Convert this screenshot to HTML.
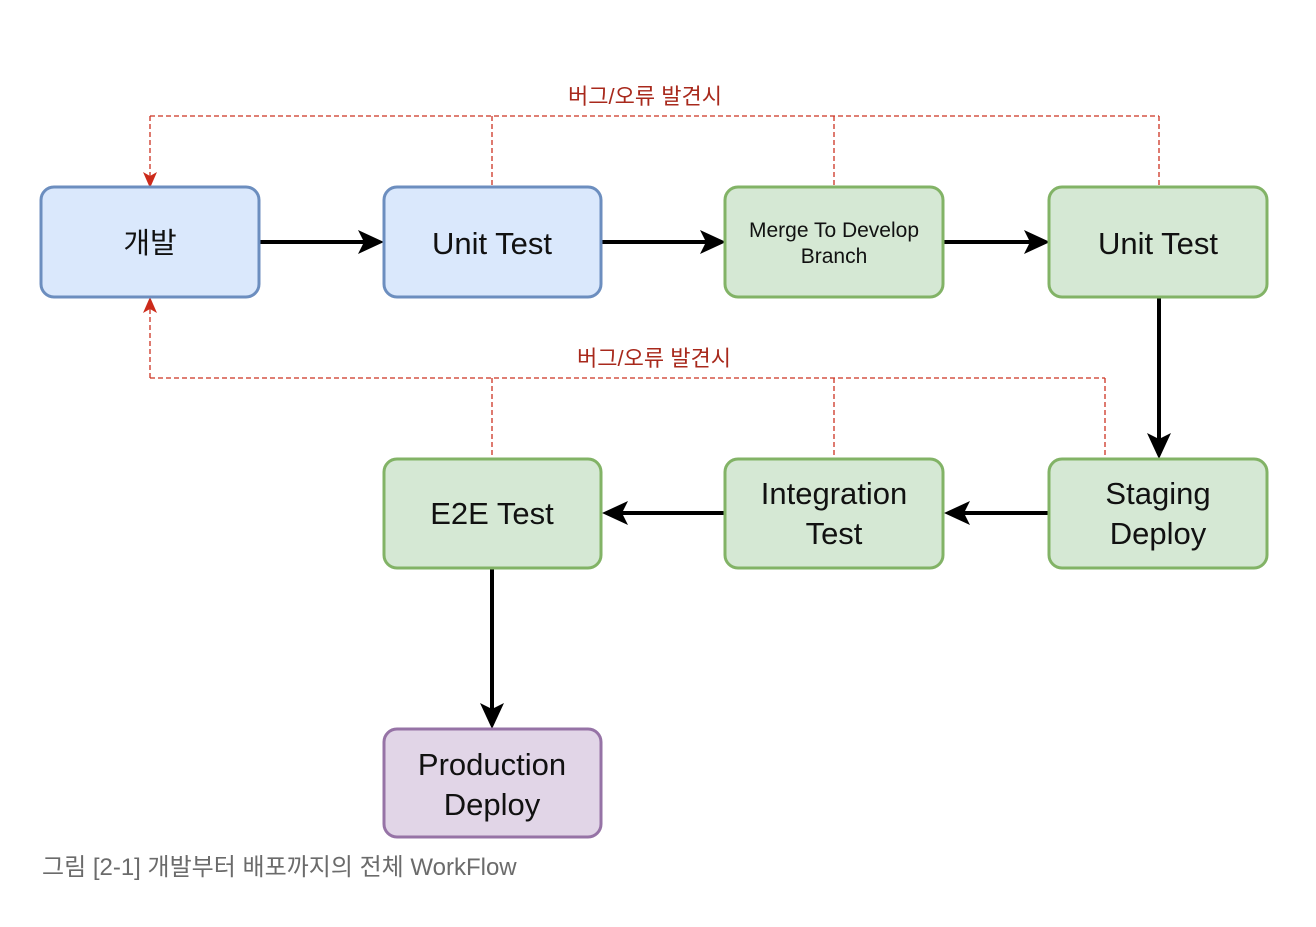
<!DOCTYPE html>
<html><head><meta charset="utf-8"><style>
body{margin:0;background:#fff;}
svg, svg text{font-family:"Liberation Sans",Arial,"Noto Sans CJK KR",sans-serif;}
</style></head><body>
<svg width="1316" height="922" xmlns="http://www.w3.org/2000/svg" font-family="Liberation Sans, Arial, Noto Sans CJK KR, sans-serif">
<g fill="none" stroke="#cc3322" stroke-width="1.3" stroke-dasharray="5,3">
<path d="M150,116 H1159 M492,116 V187 M834,116 V187 M1159,116 V187 M150,116 V176"/>
<path d="M150,378 H1105 M492,378 V459 M834,378 V459 M1105,378 V459 M150,378 V308"/>
</g>
<path d="M143,172 L150,188 L157,172 L150,176 z" fill="#cc2a1a"/>
<path d="M143,313 L150,297 L157,313 L150,309 z" fill="#cc2a1a"/>
<text x="645" y="104" font-size="22" fill="#a8291c" text-anchor="middle">버그/오류 발견시</text>
<text x="654" y="366" font-size="22" fill="#a8291c" text-anchor="middle">버그/오류 발견시</text>
<g stroke="#000" stroke-width="4" fill="none">
<path d="M260,242 H368"/><path d="M602,242 H710"/><path d="M944,242 H1034"/>
<path d="M1159,298 V444"/><path d="M1049,513 H960"/><path d="M725,513 H617"/><path d="M492,569 V714"/>
</g>
<g fill="#000">
<path d="M358,230 L384,242 L358,254 L364,242z"/>
<path d="M700,230 L726,242 L700,254 L706,242z"/>
<path d="M1024,230 L1050,242 L1024,254 L1030,242z"/>
<path d="M1147,433 L1159,459 L1171,433 L1159,439z"/>
<path d="M970,501 L944,513 L970,525 L964,513z"/>
<path d="M628,501 L602,513 L628,525 L622,513z"/>
<path d="M480,703 L492,729 L504,703 L492,709z"/>
</g>
<g stroke-width="3">
<rect x="41" y="187" width="218" height="110" rx="13" fill="#dae8fc" stroke="#6c8ebf"/>
<rect x="384" y="187" width="217" height="110" rx="13" fill="#dae8fc" stroke="#6c8ebf"/>
<rect x="725" y="187" width="218" height="110" rx="13" fill="#d5e8d4" stroke="#82b366"/>
<rect x="1049" y="187" width="218" height="110" rx="13" fill="#d5e8d4" stroke="#82b366"/>
<rect x="384" y="459" width="217" height="109" rx="13" fill="#d5e8d4" stroke="#82b366"/>
<rect x="725" y="459" width="218" height="109" rx="13" fill="#d5e8d4" stroke="#82b366"/>
<rect x="1049" y="459" width="218" height="109" rx="13" fill="#d5e8d4" stroke="#82b366"/>
<rect x="384" y="729" width="217" height="108" rx="13" fill="#e1d5e7" stroke="#9673a6"/>
</g>
<g fill="#111" text-anchor="middle" font-size="31">
<text x="150" y="253" font-size="29">개발</text>
<text x="492" y="254">Unit Test</text>
<text x="834" y="237" font-size="21">Merge To Develop</text>
<text x="834" y="263" font-size="21">Branch</text>
<text x="1158" y="254">Unit Test</text>
<text x="492" y="524">E2E Test</text>
<text x="834" y="504">Integration</text>
<text x="834" y="544">Test</text>
<text x="1158" y="504">Staging</text>
<text x="1158" y="544">Deploy</text>
<text x="492" y="775">Production</text>
<text x="492" y="815">Deploy</text>
</g>
<text x="42" y="875" font-size="24" fill="#6b6b6b">그림 [2-1] 개발부터 배포까지의 전체 WorkFlow</text>
</svg>
</body></html>
